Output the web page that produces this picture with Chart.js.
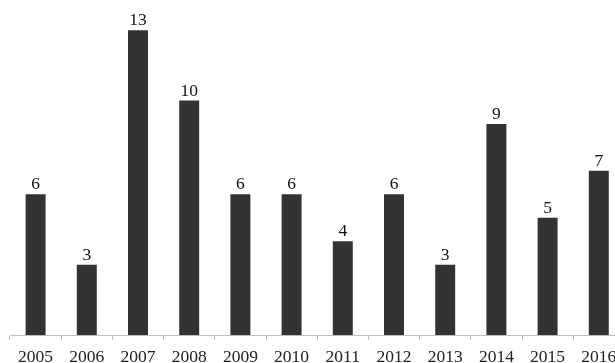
<!DOCTYPE html>
<html>
<head>
<meta charset="utf-8">
<script src="https://cdn.jsdelivr.net/npm/chart.js@4.4.1/dist/chart.umd.min.js"></script>
<style>
  html, body { margin: 0; padding: 0; background: #fff; overflow: hidden; }
  #wrap { position: relative; width: 640px; height: 385px; }
</style>
</head>
<body>
<div id="wrap"><canvas id="myChart"></canvas></div>
<script>
// years on the x axis
const years = ['2005', '2006', '2007', '2008', '2009', '2010', '2011', '2012', '2013', '2014', '2015', '2016'];
// count per year
const counts = [6, 3, 13, 10, 6, 6, 4, 6, 3, 9, 5, 7];

const serif = "'Liberation Serif', 'Times New Roman', serif";

// little plugin that writes the value above each bar
const valueLabels = {
  id: 'valueLabels',
  afterDatasetsDraw(chart) {
    const ctx = chart.ctx;
    const meta = chart.getDatasetMeta(0);
    ctx.save();
    ctx.font = '17.5px ' + serif;
    ctx.fillStyle = '#111';
    ctx.textAlign = 'center';
    ctx.textBaseline = 'alphabetic';
    meta.data.forEach((bar, i) => {
      ctx.fillText(String(counts[i]), bar.x, bar.y - 5);
    });
    ctx.restore();
  }
};

const ctx = document.getElementById('myChart');
const chart = new Chart(ctx, {
  type: 'bar',
  data: {
    labels: years,
    datasets: [{
      data: counts,
      backgroundColor: '#323232',
      borderWidth: 0,
      categoryPercentage: 1,
      barPercentage: 0.39
    }]
  },
  options: {
    responsive: true,
    maintainAspectRatio: false,
    animation: false,
    layout: { padding: { left: 10, right: 15.6, top: 6.7, bottom: 11 } },
    plugins: {
      legend: { display: false },
      tooltip: { enabled: false }
    },
    scales: {
      x: {
        offset: true,
        grid: {
          offset: true,
          drawOnChartArea: false,
          drawTicks: true,
          tickLength: 5,
          color: '#bdbdbd',
          lineWidth: 1
        },
        border: { display: true, color: '#bdbdbd', width: 1 },
        ticks: {
          color: '#222',
          padding: 6.5,
          maxRotation: 0,
          autoSkip: false,
          font: { family: serif, size: 17.5 }
        }
      },
      y: {
        display: false,
        min: 0,
        max: 14
      }
    }
  },
  plugins: [valueLabels]
});
</script>
</body>
</html>
